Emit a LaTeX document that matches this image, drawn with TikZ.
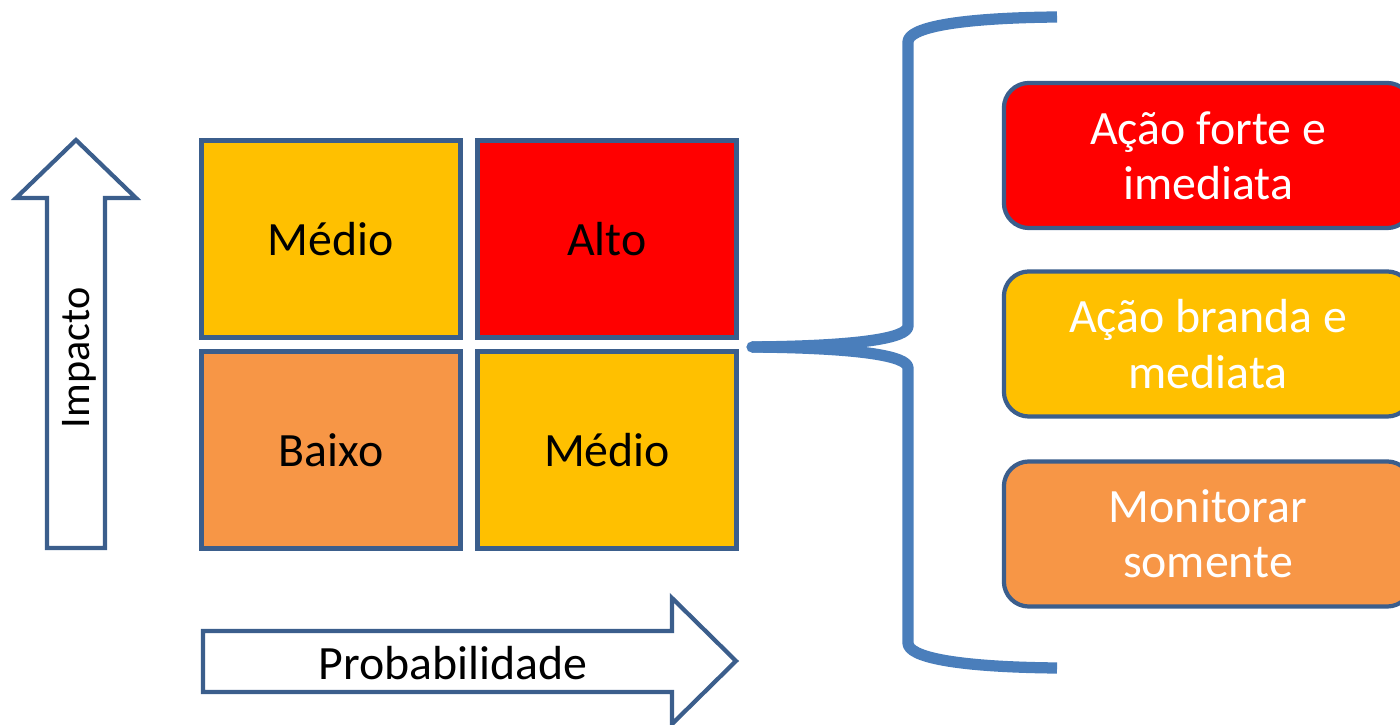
\documentclass[tikz,border=0pt]{standalone}
\usepackage{fontspec}
\setmainfont{Carlito}
\begin{document}
\begin{tikzpicture}[x=0.01cm,y=-0.01cm,
  edge/.style={draw=strokeblue,line width=1.2pt},
  cell/.style={edge,rectangle,minimum width=2.59cm,minimum height=1.97cm,inner sep=0pt,
    font=\fontsize{13.6}{16}\selectfont,text=black},
  action/.style={edge,rectangle,rounded corners=0.25cm,minimum width=4.08cm,minimum height=1.45cm,
    inner sep=0pt,align=center,text=white,font=\fontsize{13.6}{15.7}\selectfont},
  axisarrow/.style={edge,fill=white,line join=miter},
  lbl/.style={font=\fontsize{13.6}{16}\selectfont,text=black,inner sep=0pt},
  bracestyle/.style={draw=braceblue,line width=3.2pt,line cap=butt,line join=round}]
\definecolor{strokeblue}{HTML}{3B5E8C}
\definecolor{braceblue}{HTML}{4A7EBB}
\definecolor{cyellow}{HTML}{FFC000}
\definecolor{cred}{HTML}{FF0000}
\definecolor{corange}{HTML}{F79646}
\useasboundingbox (0,0) rectangle (1400,725);
\clip (0,0) rectangle (1400,725);
% impact arrow
\draw[axisarrow] (47,548) -- (105,548) -- (105,198) -- (136,198) -- (76,140) -- (16,198) -- (47,198) -- cycle;
\node[lbl,rotate=90,font=\fontsize{12}{14}\selectfont] (imp) at (79,358) {Impacto};
% probability arrow
\draw[axisarrow] (203,631) -- (672,631) -- (672,598) -- (736,661) -- (672,724) -- (672,692) -- (203,692) -- cycle;
\node[lbl] (prob) at (453,663) {Probabilidade};
% grid
\node[cell,fill=cyellow] (c11) at (331,239) {Médio};
\node[cell,fill=cred]    (c12) at (607,239) {Alto};
\node[cell,fill=corange] (c21) at (331,450) {Baixo};
\node[cell,fill=cyellow] (c22) at (607,450) {Médio};
% brace
\coordinate (btip) at (752,347);
\coordinate (btop) at (1057,17);
\coordinate (bbot) at (1057,668);
\draw[bracestyle] (btop) .. controls (955,18) and (908,28) .. (908,42) -- (908,326)
  .. controls (908,338) and (860,346) .. (btip);
\draw[bracestyle] (bbot) .. controls (955,667) and (908,657) .. (908,643) -- (908,368)
  .. controls (908,356) and (860,348) .. (btip);
\fill[braceblue] (btip) circle (1.6pt);
% actions
\node[action,fill=cred]    (a1) at (1208,155.5) {Ação forte e\\imediata};
\node[action,fill=cyellow] (a2) at (1208,344) {Ação branda e\\mediata};
\node[action,fill=corange] (a3) at (1208,534) {Monitorar\\somente};
\end{tikzpicture}
\end{document}
